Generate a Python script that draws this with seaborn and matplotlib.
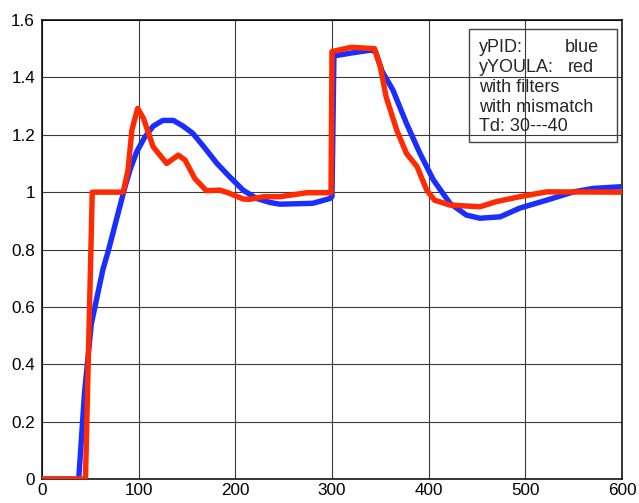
import matplotlib
matplotlib.use("Agg")
import matplotlib.pyplot as plt
import seaborn as sns
import pandas as pd
import numpy as np
from matplotlib.patches import Rectangle

# yPID (blue) response
pid_t = [0, 38, 44, 51, 63, 69, 79, 86, 91, 98, 106, 115, 125, 136, 146, 156,
         167, 181, 194, 208, 222, 236, 246, 280, 298, 300, 302, 320, 340, 345,
         352, 363, 377, 391, 405, 422, 439, 453, 474, 494, 522, 550, 570, 600]
pid_y = [0, 0, 0.30, 0.54, 0.73, 0.80, 0.93, 1.02, 1.077, 1.141, 1.19, 1.23,
         1.25, 1.25, 1.23, 1.205, 1.16, 1.10, 1.054, 1.007, 0.978, 0.964, 0.958,
         0.961, 0.978, 0.985, 1.475, 1.485, 1.495, 1.49, 1.42, 1.356, 1.24,
         1.135, 1.042, 0.961, 0.92, 0.909, 0.914, 0.944, 0.972, 1.001, 1.013,
         1.019]

# yYOULA (red) response
youla_t = [0, 45, 52, 84, 89, 93, 99, 105, 115, 129, 141, 148, 158, 170, 184,
           194, 208, 215, 229, 246, 274, 299, 300, 320, 344, 350, 356, 367, 377,
           388, 398, 406, 422, 453, 470, 494, 522, 600]
youla_y = [0, 0, 1.0, 1.0, 1.077, 1.216, 1.292, 1.257, 1.158, 1.10, 1.129,
           1.112, 1.048, 1.005, 1.007, 0.996, 0.976, 0.975, 0.984, 0.984, 0.998,
           0.998, 1.49, 1.505, 1.50, 1.437, 1.332, 1.216, 1.135, 1.089, 1.007,
           0.972, 0.955, 0.949, 0.967, 0.984, 1.001, 1.0]

x_ticks = [0, 100, 200, 300, 400, 500, 600]
y_ticks = [0, 0.2, 0.4, 0.6, 0.8, 1.0, 1.2, 1.4, 1.6]
y_labels = ["0", "0.2", "0.4", "0.6", "0.8", "1", "1.2", "1.4", "1.6"]

box_labels = ["yPID:", "yYOULA:", "with filters", "with mismatch", "Td: 30---40"]
box_values = ["blue", "red", "", "", ""]
box_value_x = [0.9017, 0.9070, 0, 0, 0]

sns.set_style("white")
plt.rcParams['font.family'] = ['Liberation Sans', 'DejaVu Sans']

fig = plt.figure(figsize=(6.39, 5.03), dpi=100)
ax = fig.add_axes([0.0657, 0.0477, 0.9077, 0.9125])

df_pid = pd.DataFrame({"t": pid_t, "y": pid_y})
df_youla = pd.DataFrame({"t": youla_t, "y": youla_y})

sns.lineplot(data=df_pid, x="t", y="y", ax=ax, color="#1a2eff", linewidth=3.9,
             estimator=None, sort=False, zorder=3)
sns.lineplot(data=df_youla, x="t", y="y", ax=ax, color="#ff2a00", linewidth=3.9,
             estimator=None, sort=False, zorder=4)

ax.set_xlim(0, 600)
ax.set_ylim(0, 1.6)
ax.set_xticks(x_ticks)
ax.set_xticklabels([str(v) for v in x_ticks])
ax.set_yticks(y_ticks)
ax.set_yticklabels(y_labels)
ax.set_xlabel("")
ax.set_ylabel("")
ax.grid(True, color="#3a3a3a", linewidth=0.8, linestyle="-")
ax.set_axisbelow(True)
ax.tick_params(axis="both", labelsize=12.3, direction="in", length=0,
               colors="black")
ax.tick_params(axis="x", pad=3)
ax.tick_params(axis="y", pad=5)
for s in ax.spines.values():
    s.set_color("black")
    s.set_linewidth(1.1)
    s.set_visible(True)

# text box
ax.add_patch(Rectangle((0.7367, 0.735), 0.2543, 0.245, transform=ax.transAxes,
                       facecolor="none", edgecolor="#444444", linewidth=1.0,
                       zorder=6))
baselines = [0.931, 0.887, 0.844, 0.800, 0.759]
for lab, val, vx, yb in zip(box_labels, box_values, box_value_x, baselines):
    ax.text(0.7534, yb, lab, transform=ax.transAxes, fontsize=13.0,
            va="baseline", ha="left", zorder=7)
    if val:
        ax.text(vx, yb, val, transform=ax.transAxes, fontsize=13.0,
                va="baseline", ha="left", zorder=7)

fig.savefig("out.png", dpi=100)
